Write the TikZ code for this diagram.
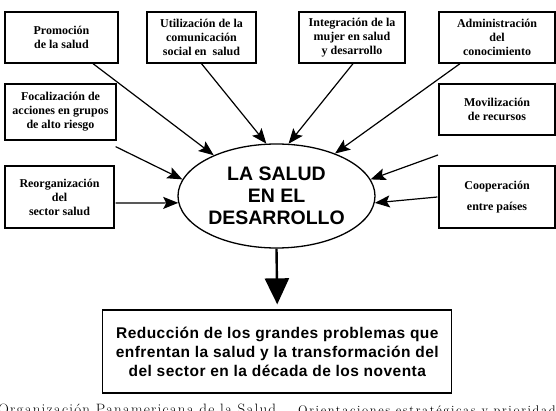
\documentclass[tikz,border=0pt]{standalone}
\usepackage{fontspec}
\usetikzlibrary{arrows.meta, calc, positioning, shapes.geometric}
\newfontfamily\boxfont{Liberation Serif}
\newfontfamily\hdfont{Liberation Sans}
\newfontfamily\widehdfont{Liberation Sans}[LetterSpace=3]
\newfontfamily\capfont{Latin Modern Roman}[LetterSpace=8]
\newfontfamily\capsmallfont{Latin Modern Roman}[LetterSpace=13]

\tikzset{
  cuadro/.style={draw, line width=1.3pt, align=center, inner sep=0pt,
    font=\boxfont\bfseries\fontsize{12}{14}\selectfont},
  flecha/.style={line width=1.2pt, -{Stealth[length=15pt, width=12pt, inset=3pt]}},
}

\begin{document}
\begin{tikzpicture}[x=1pt, y=-1pt]
  \useasboundingbox (0,0) rectangle (556,411);
  \clip (0,0) rectangle (556,411);
  % fila de arriba
  \node[cuadro, minimum width=113pt, minimum height=51pt] (prom) at (61.5,37.5) {Promoción\\de la salud};
  \node[cuadro, minimum width=109pt, minimum height=51pt] (util) at (201.5,37.5) {Utilización de la\\comunicación\\social en~ salud};
  \node[cuadro, minimum width=106pt, minimum height=51pt] (integ) at (352,37.5) {Integración de la\\mujer en salud\\y desarrollo};
  \node[cuadro, minimum width=116pt, minimum height=51pt] (admin) at (497,37.5) {Administración\\del\\conocimiento};
  % lados
  \node[cuadro, minimum width=111pt, minimum height=56pt] (focal) at (60.5,112) {Focalización de\\acciones en grupos\\de alto riesgo};
  \node[cuadro, minimum width=116pt, minimum height=51pt] (movil) at (497,109.5) {Movilización\\de recursos};
  \node[cuadro, minimum width=109pt, minimum height=62pt] (reorg) at (59.5,197) {Reorganización\\del\\sector salud};
  \node[cuadro, minimum width=116pt, minimum height=62pt] (coop) at (497,197) {Cooperación\\[7pt]entre países};
  % centro
  \node[draw, ellipse, line width=1.3pt, minimum width=197pt, minimum height=104pt, inner sep=0pt,
    align=center, font=\hdfont\bfseries\fontsize{19.5}{22}\selectfont] (salud) at (276.5,196) {LA SALUD\\EN EL\\DESARROLLO};
  \node[draw, line width=1.3pt, minimum width=349pt, minimum height=83pt, inner sep=0pt,
    align=center, font=\widehdfont\bfseries\fontsize{15.5}{19}\selectfont] (reduc) at (277.3,351.5)
    {Reducción de los grandes problemas que\\enfrentan la salud y la transformación del\\del sector en la década de los noventa};
  % salidas de las flechas
  \coordinate (promout) at ([xshift=31.5pt]prom.south);
  \coordinate (utilout) at (util.south);
  \coordinate (integout) at ([xshift=1pt]integ.south);
  \coordinate (adminout) at ([xshift=-37pt]admin.south);
  \coordinate (focalout) at ([xshift=-1pt, yshift=-6pt]focal.south east);
  \coordinate (reorgout) at ([xshift=1pt, yshift=-6pt]reorg.east);
  \coordinate (movilout) at (438,155);
  \coordinate (coopout) at ([xshift=-1pt]coop.west);
  \foreach \a/\b in {promout/147, utilout/101.6, integout/77.3, adminout/36.3,
                     focalout/170.9, reorgout/184.9, movilout/10.3, coopout/-4}
    \draw[flecha] (\a) -- (salud.\b);
  \draw[line width=2.4pt, shorten >=5pt, -{Triangle[length=26pt, width=24pt]}] (salud.south) -- (reduc.north);
  % fuente, cortada abajo
  \node[anchor=base west, inner sep=0pt, font=\capfont\fontsize{15}{17}\selectfont] (fuente) at (-2,414) {Organización Panamericana de la Salud.};
  \node[anchor=base west, inner sep=0pt, font=\capsmallfont\fontsize{12.5}{15}\selectfont] (obra) at (298,414) {Orientaciones estratégicas y prioridad};
\end{tikzpicture}
\end{document}
